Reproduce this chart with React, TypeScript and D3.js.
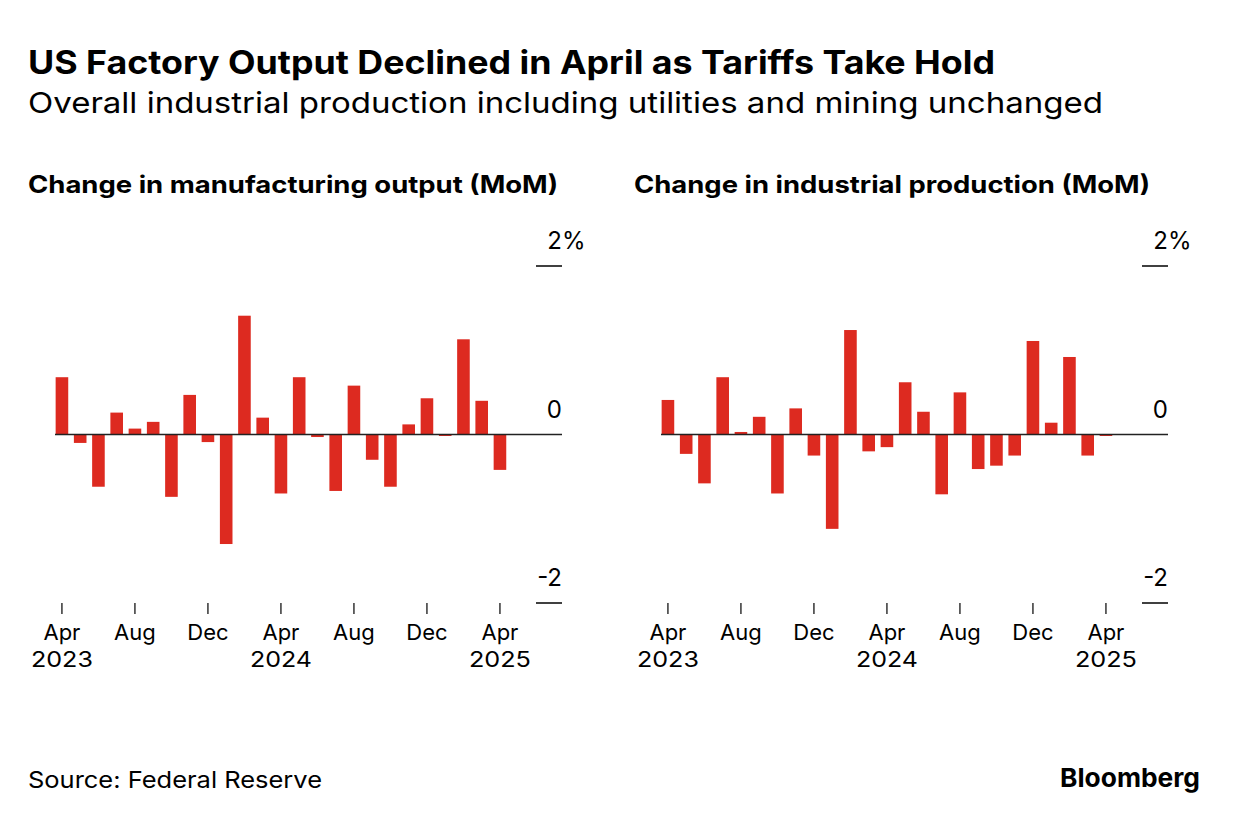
import React from "react";
import * as d3 from "d3";

const months = [
  "2023-04","2023-05","2023-06","2023-07","2023-08","2023-09","2023-10","2023-11","2023-12",
  "2024-01","2024-02","2024-03","2024-04","2024-05","2024-06","2024-07","2024-08","2024-09",
  "2024-10","2024-11","2024-12","2025-01","2025-02","2025-03","2025-04",
];
const manufacturing = [0.68, -0.10, -0.62, 0.26, 0.07, 0.15, -0.74, 0.47, -0.09, -1.30, 1.41, 0.20, -0.70, 0.68, -0.03, -0.67, 0.58, -0.30, -0.62, 0.12, 0.43, -0.01, 1.13, 0.40, -0.42];
const industrial = [0.41, -0.23, -0.58, 0.68, 0.03, 0.21, -0.70, 0.31, -0.25, -1.12, 1.24, -0.20, -0.15, 0.62, 0.27, -0.71, 0.50, -0.41, -0.37, -0.25, 1.11, 0.14, 0.92, -0.25, 0.0];
const xTickIdx = [0, 4, 8, 12, 16, 20, 24];
const xTickLabels = ["Apr", "Aug", "Dec", "Apr", "Aug", "Dec", "Apr"];
const xYearLabels = ["2023", "", "", "2024", "", "", "2025"];
const yTicks = [2, 0, -2];
const yTickLabels = ["2", "0", "-2"];

const FONT = "Inter, 'Liberation Sans', Arial, sans-serif";
const RED = "#dd2a20";

function Panel({ x0, title, titleLen, values }: { x0: number; title: string; titleLen: number; values: number[] }) {
  const x = d3.scaleLinear().domain([-0.38, 27.4]).range([x0 + 55, x0 + 562]);
  const y = d3.scaleLinear().domain([2, -2]).range([266, 603]);
  const bw = 12.6;
  const right = x0 + 562;
  return (
    <g>
      <text x={x0 + 28} y={193} fontFamily={FONT} fontWeight={700} fontSize={24} fill="#000"
        textLength={titleLen} lengthAdjust="spacingAndGlyphs">
        {title}
      </text>
      {yTicks.map((t, i) => (
        <g key={t}>
          {t !== 0 && (
            <line x1={right - 26} x2={right} y1={y(t)} y2={y(t)} stroke="#000" strokeWidth={1.5} />
          )}
          <text x={right} y={y(t) - 17} textAnchor="end" fontFamily={FONT} fontSize={24} fill="#000">
            {yTickLabels[i]}
          </text>
          {i === 0 && (
            <text x={right} y={y(t) - 17} fontFamily={FONT} fontSize={24} fill="#000">%</text>
          )}
        </g>
      ))}
      {values.map((v, i) => {
        const y0 = y(0);
        const yv = y(v);
        let top = Math.min(y0, yv);
        let h = Math.abs(yv - y0);
        if (h < 1.5) { h = 1.5; top = y0; }
        return <rect key={months[i]} x={x(i) - bw / 2} y={top} width={bw} height={h} fill={RED} />;
      })}
      <line x1={x.range()[0]} x2={x.range()[1]} y1={y(0)} y2={y(0)} stroke="#222" strokeWidth={1.5} />
      {xTickIdx.map((idx, i) => (
        <g key={idx}>
          <line x1={x(idx)} x2={x(idx)} y1={603} y2={614} stroke="#000" strokeWidth={1.2} />
          <text x={x(idx)} y={640} textAnchor="middle" fontFamily={FONT} fontSize={22} fill="#000">
            {xTickLabels[i]}
          </text>
          {xYearLabels[i] && (
            <text x={x(idx)} y={667} textAnchor="middle" fontFamily={FONT} fontSize={22} fill="#000"
              textLength={62} lengthAdjust="spacingAndGlyphs">
              {xYearLabels[i]}
            </text>
          )}
        </g>
      ))}
    </g>
  );
}

export default function App() {
  return (
    <svg
      width={1240}
      height={822}
      viewBox="0 0 1240 822"
      style={{ position: "absolute", left: 0, top: 0, background: "#fff" }}
    >
      <rect width={1240} height={822} fill="#fff" />
      <text x={28} y={74} fontFamily={FONT} fontWeight={700} fontSize={32} fill="#000"
        textLength={967} lengthAdjust="spacingAndGlyphs">
        US Factory Output Declined in April as Tariffs Take Hold
      </text>
      <text x={28} y={113} fontFamily={FONT} fontSize={29} fill="#000"
        textLength={1075} lengthAdjust="spacingAndGlyphs">
        Overall industrial production including utilities and mining unchanged
      </text>
      <Panel x0={0} title="Change in manufacturing output (MoM)" titleLen={530} values={manufacturing} />
      <Panel x0={606} title="Change in industrial production (MoM)" titleLen={516} values={industrial} />
      <text x={28} y={788} fontFamily={FONT} fontSize={23} fill="#000"
        textLength={294} lengthAdjust="spacingAndGlyphs">
        Source: Federal Reserve
      </text>
      <text x={1200} y={787} textAnchor="end" fontFamily={FONT} fontWeight={700} fontSize={26} fill="#000"
        textLength={140} lengthAdjust="spacingAndGlyphs">
        Bloomberg
      </text>
    </svg>
  );
}
